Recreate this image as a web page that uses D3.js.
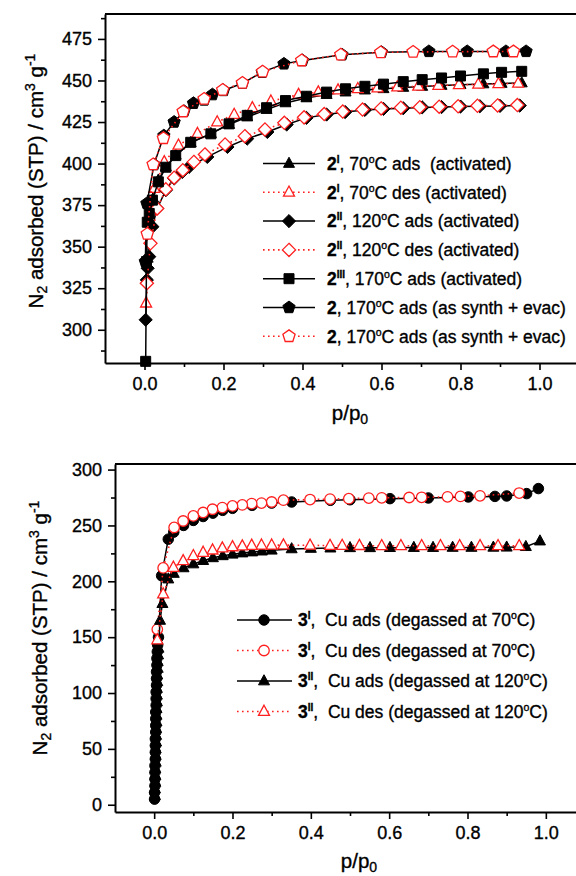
<!DOCTYPE html>
<html>
<head>
<meta charset="utf-8">
<script src="https://cdn.jsdelivr.net/npm/d3@7"></script>
<style>
  html, body { margin: 0; padding: 0; background: #fff; }
  svg { display: block; font-family: "Liberation Sans", Arial, Helvetica, sans-serif; }
  text { white-space: pre; stroke: #000; stroke-width: 0.35px; }
</style>
</head>
<body>
<svg id="fig" width="576" height="876"></svg>
<script>
// ---------- shared axis ticks ----------
const xTicks = [0.0, 0.2, 0.4, 0.6, 0.8, 1.0];
const xMinor = [0.1, 0.3, 0.5, 0.7, 0.9, 1.1];

// ---------- compound 2 : N2 isotherms (p/p0, cm3 g-1) ----------
const yTicks2 = [300, 325, 350, 375, 400, 425, 450, 475];
const yMinor2 = [287.5, 312.5, 337.5, 362.5, 387.5, 412.5, 437.5, 462.5, 487.5];

const iso2I_ads = [[0.004,330],[0.008,343],[0.013,366],[0.022,379],[0.035,390],[0.054,398],[0.079,405],[0.117,412.5],[0.168,418],[0.214,423.5],[0.26,428],[0.309,432.5],[0.357,436.5],[0.41,439.5],[0.461,441.5],[0.509,443],[0.558,444.2],[0.605,445],[0.655,445.8],[0.703,446.4],[0.752,447],[0.8,447.5],[0.858,447.9],[0.904,448.2],[0.955,448.5]];
const iso2I_des = [[0.946,448.3],[0.896,448],[0.845,447.7],[0.796,447.4],[0.744,447],[0.693,446.5],[0.64,446],[0.59,445.5],[0.54,445],[0.49,444.2],[0.44,443],[0.39,441.5],[0.32,437.5],[0.273,433.5],[0.227,429.5],[0.184,425],[0.134,418],[0.086,411],[0.05,401],[0.025,385],[0.004,316]];
const iso2II_ads = [[0.003,306],[0.006,330],[0.008,337],[0.012,344],[0.02,362],[0.032,373],[0.054,384],[0.075,391],[0.096,395],[0.113,398],[0.159,404],[0.21,410],[0.26,415],[0.311,419],[0.36,423.5],[0.41,427.5],[0.461,429.5],[0.508,431],[0.558,432.3],[0.605,432.9],[0.655,433.3],[0.703,433.8],[0.752,434],[0.8,434.3],[0.849,434.5],[0.9,434.7],[0.95,434.9]];
const iso2II_des = [[0.944,435.2],[0.894,435],[0.843,434.8],[0.794,434.5],[0.746,434.2],[0.697,433.9],[0.649,433.6],[0.599,433.2],[0.552,432.5],[0.502,431.3],[0.455,429.8],[0.404,427.8],[0.354,424.5],[0.305,420.5],[0.254,416.5],[0.204,411.5],[0.153,405.5],[0.125,401],[0.097,396],[0.075,391.5],[0.054,384.5],[0.032,373],[0.015,352],[0.006,328]];
const iso2III_ads = [[0.003,281],[0.005,341],[0.007,364.7],[0.012,370],[0.02,378],[0.035,389],[0.054,397.8],[0.079,404.8],[0.117,412.8],[0.168,417.9],[0.214,423.9],[0.26,429],[0.309,433.6],[0.357,437.9],[0.41,440.5],[0.461,443],[0.509,445],[0.558,446.5],[0.605,447.8],[0.655,449.3],[0.703,450.5],[0.752,451.5],[0.8,452.7],[0.858,454],[0.904,454.9],[0.955,455.5]];
const iso2_ads = [[0.002,341],[0.006,376],[0.024,399.4],[0.049,416.8],[0.075,425],[0.1,431.5],[0.124,436.3],[0.151,438.3],[0.172,441.5],[0.2,444],[0.248,448.3],[0.298,455],[0.353,460],[0.4,462],[0.5,465.5],[0.6,467],[0.72,467.5],[0.817,467.5],[0.915,467.5],[0.966,467.5]];
const iso2_des = [[0.934,467.4],[0.883,467.4],[0.78,467.3],[0.68,467.2],[0.598,466.9],[0.497,465.5],[0.398,462],[0.299,455.3],[0.248,448.5],[0.198,444.3],[0.151,438.9],[0.098,431.3],[0.048,415.2],[0.022,399.5],[0.007,357.7]];

// legend text parts: [bold number, roman superscript, text, degree sign, rest]
const legend2 = [
  ["2", "I",   ", 70",  "o", "C ads  (activated)"],
  ["2", "I",   ", 70",  "o", "C des (activated)"],
  ["2", "II",  ", 120", "o", "C ads (activated)"],
  ["2", "II",  ", 120", "o", "C des (activated)"],
  ["2", "III", ", 170", "o", "C ads (activated)"],
  ["2", "",    ", 170", "o", "C ads (as synth + evac)"],
  ["2", "",    ", 170", "o", "C ads (as synth + evac)"]
];

// ---------- compound 3 : N2 isotherms ----------
const yTicks3 = [0, 50, 100, 150, 200, 250, 300];
const yMinor3 = [25, 75, 125, 175, 225, 275];

const iso3I_ads = [[0.001,5],[0.001,11],[0.002,17],[0.002,23],[0.002,29],[0.002,35],[0.003,41],[0.003,47],[0.003,53],[0.003,59],[0.004,65],[0.004,71],[0.004,77],[0.004,83],[0.005,89],[0.005,95],[0.005,101],[0.006,107],[0.006,113],[0.006,119],[0.007,125],[0.007,131],[0.008,137],[0.009,143],[0.011,150],[0.019,205],[0.036,237.7],[0.05,244],[0.075,250],[0.1,254.5],[0.125,258],[0.15,261],[0.175,263.5],[0.2,265.3],[0.25,268],[0.3,270],[0.351,271],[0.45,272.5],[0.5,273],[0.602,274],[0.7,274.6],[0.802,275.5],[0.87,276],[0.9,276.4],[0.951,278.5],[0.981,283]];
const iso3I_des = [[0.932,279],[0.832,276.5],[0.782,276],[0.749,275.6],[0.683,275.2],[0.651,275],[0.581,274.7],[0.548,274.5],[0.497,274],[0.449,273.6],[0.398,273.2],[0.33,272.6],[0.3,271],[0.274,270],[0.249,269.6],[0.225,268.4],[0.2,267.5],[0.174,266],[0.149,264.5],[0.125,261.6],[0.1,258.5],[0.074,254],[0.051,248.2],[0.023,212],[0.008,157]];
const iso3II_ads = [[0.002,8],[0.002,14],[0.003,20],[0.003,26],[0.003,32],[0.004,38],[0.004,44],[0.004,50],[0.005,56],[0.005,62],[0.005,68],[0.006,74],[0.006,80],[0.006,86],[0.007,92],[0.007,98],[0.007,104],[0.008,110],[0.008,116],[0.009,122],[0.009,128],[0.01,134],[0.011,140],[0.015,165],[0.021,180],[0.036,202],[0.05,207],[0.075,212],[0.1,215.5],[0.125,218.5],[0.15,221],[0.175,222.8],[0.2,224.2],[0.225,225.3],[0.25,226.2],[0.275,227],[0.3,227.8],[0.351,229],[0.4,229.4],[0.45,229.7],[0.5,230],[0.551,230],[0.602,230.1],[0.663,230.2],[0.712,230.2],[0.762,230.3],[0.81,230.3],[0.866,230.4],[0.9,230.5],[0.949,231],[0.985,236]];
const iso3II_des = [[0.932,231.8],[0.878,231.8],[0.832,231.8],[0.78,231.8],[0.731,231.8],[0.683,231.8],[0.63,231.8],[0.581,231.8],[0.524,231.9],[0.48,232],[0.449,232],[0.398,232.2],[0.33,232.4],[0.3,232.3],[0.274,232.3],[0.249,232.1],[0.225,231.5],[0.2,230.8],[0.174,229.7],[0.149,227.9],[0.125,225.8],[0.1,222.8],[0.074,218.3],[0.049,212.4],[0.023,188.6],[0.008,147.5]];

const legend3 = [
  ["3", "I",  ",  Cu ads (degassed at 70",  "o", "C)"],
  ["3", "I",  ",  Cu des (degassed at 70",  "o", "C)"],
  ["3", "II", ",  Cu ads (degassed at 120", "o", "C)"],
  ["3", "II", ",  Cu des (degassed at 120", "o", "C)"]
];

// ---------- marker outlines, centred on (0,0), s = nominal size ----------
const shapes = {
  triangle: s => { const h = s * 0.92, w = s; return `M0,${-h*0.62}L${w/2},${h*0.38}L${-w/2},${h*0.38}Z`; },
  diamond:  s => { const r = s * 0.55; return `M0,${-r}L${r},0L0,${r}L${-r},0Z`; },
  square:   s => { const r = s / 2; return `M${-r},${-r}H${r}V${r}H${-r}Z`; },
  pentagon: s => {
    const r = s * 0.56; let p = "";
    for (let k = 0; k < 5; k++) {
      const a = -Math.PI / 2 + k * 2 * Math.PI / 5;
      p += (k ? "L" : "M") + (r * Math.cos(a)).toFixed(2) + "," + (r * Math.sin(a)).toFixed(2);
    }
    return p + "Z";
  },
  circle:   s => { const r = s / 2; return `M${r},0A${r},${r} 0 1,1 ${-r},0A${r},${r} 0 1,1 ${r},0Z`; }
};

const RED = "#ff1f1f";
const svg = d3.select("#fig");
svg.append("rect").attr("width", 576).attr("height", 876).attr("fill", "#fff");

function styleMarker(sel, filled) {
  if (filled) sel.attr("fill", "#000").attr("stroke", "#000").attr("stroke-width", 1);
  else sel.attr("fill", "#fff").attr("stroke", RED).attr("stroke-width", 1.3);
}
function styleLine(sel, filled) {
  if (filled) sel.attr("stroke", "#000").attr("stroke-width", 1.5);
  else sel.attr("stroke", RED).attr("stroke-width", 1.6).attr("stroke-dasharray", "1.6,3.4");
}

function drawPanel(cfg) {
  const g = svg.append("g");
  const x = d3.scaleLinear().domain(cfg.xDomain).range(cfg.xRange);
  const y = d3.scaleLinear().domain(cfg.yDomain).range(cfg.yRange);
  const [x0, x1] = cfg.xRange, [yb, yt] = cfg.yRange;

  // frame top edge
  g.append("line").attr("x1", x0).attr("x2", x1).attr("y1", yt).attr("y2", yt)
    .attr("stroke", "#000").attr("stroke-width", 2);

  // axes
  const yAxis = g.append("g").attr("transform", `translate(${x0},0)`)
    .call(d3.axisLeft(y).tickValues(cfg.yTicks).tickSize(7).tickSizeOuter(0).tickPadding(6).tickFormat(d3.format("d")));
  const yMin = g.append("g").attr("transform", `translate(${x0},0)`)
    .call(d3.axisLeft(y).tickValues(cfg.yMinor).tickSize(4).tickFormat(""));
  yMin.select(".domain").remove();
  const xAxis = g.append("g").attr("transform", `translate(0,${yb})`)
    .call(d3.axisBottom(x).tickValues(xTicks).tickSize(7).tickSizeOuter(0).tickPadding(7).tickFormat(d3.format(".1f")));
  const xMin = g.append("g").attr("transform", `translate(0,${yb})`)
    .call(d3.axisBottom(x).tickValues(xMinor).tickSize(4).tickFormat(""));
  xMin.select(".domain").remove();

  [yAxis, yMin, xAxis, xMin].forEach(a => {
    a.selectAll(".domain").attr("stroke", "#000").attr("stroke-width", 2);
    a.selectAll(".tick line").attr("stroke", "#000").attr("stroke-width", 1.6);
    a.selectAll("text").attr("fill", "#000").attr("font-size", 18)
      .attr("font-family", '"Liberation Sans", Arial, sans-serif');
  });

  // series
  const line = d3.line().x(d => x(d[0])).y(d => y(d[1]));
  cfg.series.forEach(s => {
    const sg = g.append("g");
    styleLine(sg.append("path").attr("d", line(s.data)).attr("fill", "none"), s.filled);
    styleMarker(sg.selectAll("path.m").data(s.data).join("path").attr("class", "m")
      .attr("d", shapes[s.shape](s.size))
      .attr("transform", d => `translate(${x(d[0])},${y(d[1])})`), s.filled);
  });

  // legend
  const lg = g.append("g");
  cfg.series.forEach((s, i) => {
    const cy = cfg.legend.y0 + i * cfg.legend.dy;
    styleLine(lg.append("line").attr("x1", cfg.legend.lx1).attr("x2", cfg.legend.lx2)
      .attr("y1", cy).attr("y2", cy), s.filled);
    styleMarker(lg.append("path").attr("d", shapes[s.shape](s.size))
      .attr("transform", `translate(${cfg.legend.mx},${cy})`), s.filled);
    const parts = cfg.labels[i];
    const t = lg.append("text").attr("x", cfg.legend.tx).attr("y", cy + 6.3)
      .attr("font-size", 17.5).attr("fill", "#000");
    t.append("tspan").attr("font-weight", "bold").text(parts[0]);
    let shift = 0;
    if (parts[1]) {
      t.append("tspan").attr("font-weight", "bold").attr("font-size", 10).attr("dy", -7).text(parts[1]);
      shift = 7;
    }
    t.append("tspan").attr("dy", shift).text(parts[2]);
    t.append("tspan").attr("font-size", 10.5).attr("dy", -7).text(parts[3]);
    t.append("tspan").attr("dy", 7).text(parts[4]);
  });

  // axis titles
  const yt_ = g.append("text").attr("transform", `translate(${cfg.yTitle[0]},${cfg.yTitle[1]}) rotate(-90)`)
    .attr("text-anchor", "middle").attr("font-size", 20.5).attr("fill", "#000");
  yt_.append("tspan").text("N");
  yt_.append("tspan").attr("font-size", 14).attr("dy", 4).text("2");
  yt_.append("tspan").attr("dy", -4).text(" adsorbed (STP) / cm");
  yt_.append("tspan").attr("font-size", 14).attr("dy", -8).text("3");
  yt_.append("tspan").attr("dy", 8).text(" g");
  yt_.append("tspan").attr("font-size", 14).attr("dy", -8).text("-1");

  const xt = g.append("text").attr("x", cfg.xTitle[0]).attr("y", cfg.xTitle[1])
    .attr("text-anchor", "middle").attr("font-size", 20.5).attr("fill", "#000");
  xt.append("tspan").text("p/p");
  xt.append("tspan").attr("font-size", 14).attr("dy", 4).text("0");
}

drawPanel({
  xDomain: [-0.1, 1.1], xRange: [105, 579],
  yDomain: [280, 490], yRange: [363, 14],
  yTicks: yTicks2, yMinor: yMinor2,
  series: [
    { data: iso2I_ads,   shape: "triangle", size: 11,   filled: true  },
    { data: iso2I_des,   shape: "triangle", size: 11,   filled: false },
    { data: iso2II_ads,  shape: "diamond",  size: 12,   filled: true  },
    { data: iso2II_des,  shape: "diamond",  size: 12,   filled: false },
    { data: iso2III_ads, shape: "square",   size: 10,   filled: true  },
    { data: iso2_ads,    shape: "pentagon", size: 11.5, filled: true  },
    { data: iso2_des,    shape: "pentagon", size: 11.5, filled: false }
  ],
  labels: legend2,
  legend: { y0: 163.5, dy: 28.8, lx1: 263, lx2: 315, mx: 289, tx: 327 },
  yTitle: [43, 181],
  xTitle: [350, 420]
});

drawPanel({
  xDomain: [-0.1, 1.1], xRange: [115, 585],
  yDomain: [-6.5, 305], yRange: [812, 464],
  yTicks: yTicks3, yMinor: yMinor3,
  series: [
    { data: iso3I_ads,  shape: "circle",   size: 10.5, filled: true  },
    { data: iso3I_des,  shape: "circle",   size: 10.5, filled: false },
    { data: iso3II_ads, shape: "triangle", size: 11,   filled: true  },
    { data: iso3II_des, shape: "triangle", size: 11,   filled: false }
  ],
  labels: legend3,
  legend: { y0: 620, dy: 30.5, lx1: 237, lx2: 292, mx: 264, tx: 298 },
  yTitle: [47, 628],
  xTitle: [359, 868]
});
</script>
</body>
</html>
